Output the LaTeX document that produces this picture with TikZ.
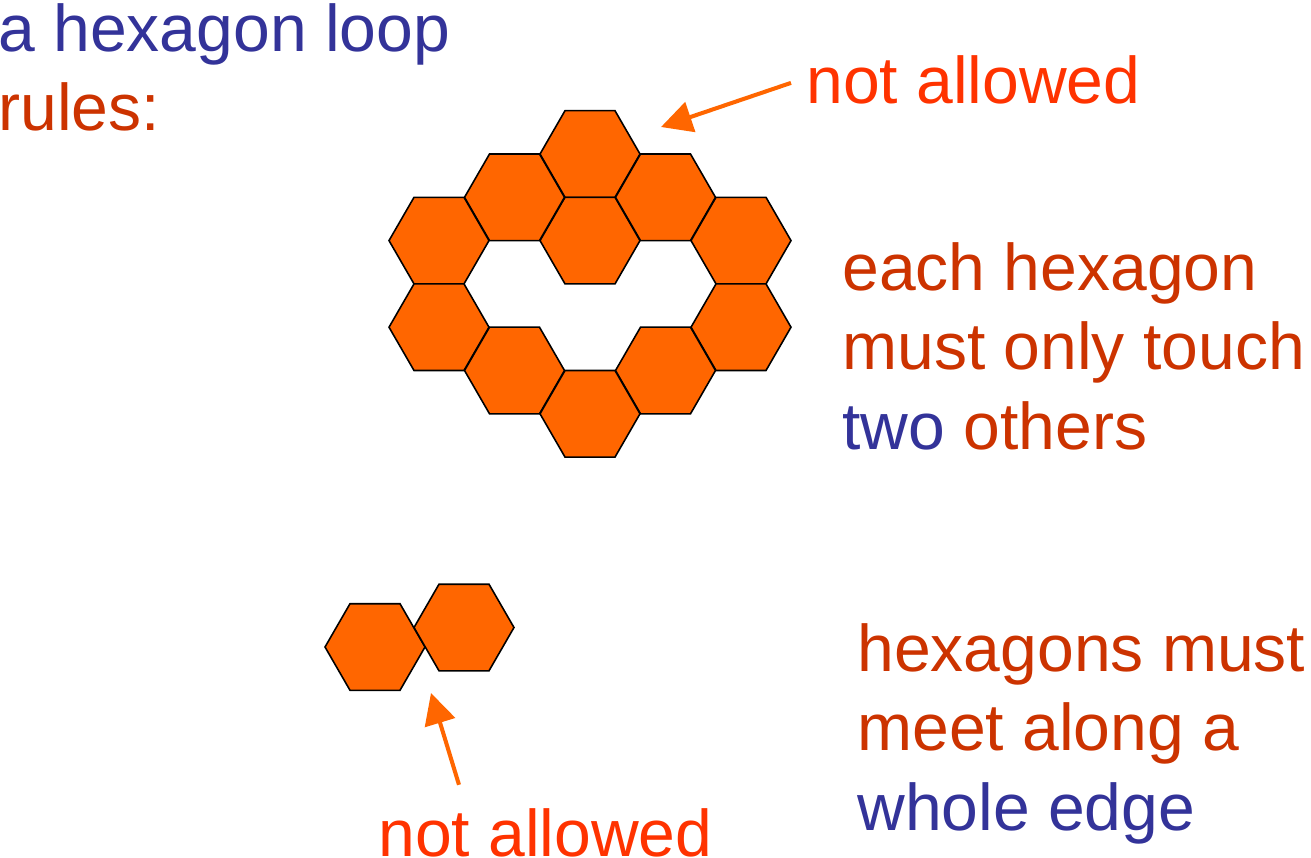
\documentclass[tikz,border=0pt]{standalone}
\usepackage{fontspec}
\setmainfont{Liberation Sans}
\usepackage{tikz}
\usetikzlibrary{shapes.geometric,arrows.meta,positioning}

\definecolor{darkblue}{HTML}{333399}
\definecolor{rulered}{HTML}{CC3300}
\definecolor{warnred}{HTML}{FF3300}
\definecolor{hexorange}{HTML}{FF6600}

\tikzset{
	hexa/.style={regular polygon, regular polygon sides=6, minimum size=2cm,
		inner sep=0pt, outer sep=0pt, draw=black, line width=0.9pt, fill=hexorange},
	txt/.style={anchor=base west, inner sep=0pt, align=left,
		font=\fontsize{37.6pt}{45pt}\selectfont},
	warn/.style={draw=hexorange, line width=2.3pt,
		-{Triangle[length=0.62cm,width=0.62cm]}}
}

\begin{document}
\begin{tikzpicture}[x=0.02cm,y=-0.02cm]
		\useasboundingbox (0,0) rectangle (1311,858);

		% the loop of hexagons
		\foreach \c/\k [count=\i] in {0/0,0/2,-1/1,1/1,-2/2,2/2,-2/4,2/4,-1/5,1/5,0/6}
			\node[hexa] (h\i) at (590+75.5*\c,154+43.3*\k) {};

		% two hexagons meeting at a corner
		\node[hexa] (p1) at (375,647) {};
		\node[hexa] (p2) at (464,627.5) {};

		% texts (base = last line)
		\node[txt, text=darkblue] (title) at (-2,131) {a hexagon loop\\\textcolor{rulered}{rules:}};
		\node[txt, text=rulered] (ruleA) at (842,449) {each hexagon\\must only touch\\\textcolor{darkblue}{two} others};
		\node[txt, text=rulered] (ruleB) at (857,830) {hexagons must\\meet along a\\\textcolor{darkblue}{whole edge}};
		\node[txt, text=warnred] (na1) at (806,104) {not allowed};
		\node[txt, text=warnred] (na2) at (378,856) {not allowed};

		% arrows
		\coordinate (tip1) at (661,127);
		\coordinate (tip2) at (431,693);
		\draw[warn] ([xshift=-0.3cm,yshift=-0.05cm]na1.west) -- (tip1);
		\draw[warn] ([xshift=1.62cm,yshift=0.46cm]na2.north west) -- (tip2);
	\end{tikzpicture}
\end{document}
